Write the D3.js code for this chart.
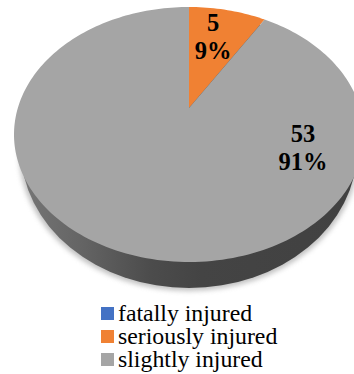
<!DOCTYPE html>
<html><head><meta charset="utf-8">
<script src="https://cdnjs.cloudflare.com/ajax/libs/d3/7.8.5/d3.min.js"></script>
<style>html,body{margin:0;padding:0;background:#fff;overflow:hidden}svg{display:block}
text{font-family:"Liberation Serif",serif;fill:#000}</style></head><body>
<script>
const categories = ["fatally injured","seriously injured","slightly injured"];
const values = [0,5,53];
const colors = ["#4472c4","#f08133","#a5a5a5"];
const W=354,H=374;
const svg=d3.select("body").append("svg").attr("width",W).attr("height",H);
const E={cx:189,cy:134.5,rx:175,ry:127.5}, apex=[189,108], stretch=1.42;
const L={cx:189,cy:150,rx:168,ry:138};
const total=d3.sum(values), pct=d3.format(".0%");
const pie=d3.pie().sort(null)(values);
// ray from the off-centre apex to the tilted rim
function rim(a){
  const dx=Math.sin(a)*stretch,dy=-Math.cos(a);
  const ox=(apex[0]-E.cx)/E.rx,oy=(apex[1]-E.cy)/E.ry,ux=dx/E.rx,uy=dy/E.ry;
  const A=ux*ux+uy*uy,B=2*(ox*ux+oy*uy),C=ox*ox+oy*oy-1;
  const t=(-B+Math.sqrt(B*B-4*A*C))/(2*A);
  return [apex[0]+t*dx,apex[1]+t*dy];
}
const line=d3.line();
const defs=svg.append("defs");
defs.append("filter").attr("id","soft").attr("x","-10%").attr("y","-10%").attr("width","120%").attr("height","120%")
  .append("feGaussianBlur").attr("stdDeviation",2.5);
const g=defs.append("linearGradient").attr("id","wall").attr("gradientUnits","userSpaceOnUse")
  .attr("x1",14).attr("x2",354).attr("y1",0).attr("y2",0);
[[0,"#787878"],[0.2,"#646464"],[0.4,"#4c4c4c"],[0.55,"#444"],[1,"#414141"]].forEach(s=>g.append("stop").attr("offset",s[0]).attr("stop-color",s[1]));
svg.append("ellipse").attr("cx",L.cx).attr("cy",L.cy+3).attr("rx",L.rx+2).attr("ry",L.ry)
  .attr("fill","#999").attr("opacity",.6).attr("filter","url(#soft)");
svg.append("ellipse").attr("cx",L.cx).attr("cy",L.cy).attr("rx",L.rx).attr("ry",L.ry).attr("fill","url(#wall)");
pie.forEach((d,i)=>{
  if(d.endAngle===d.startAngle) return;
  const n=Math.max(2,Math.ceil((d.endAngle-d.startAngle)*40));
  const pts=d3.range(n+1).map(k=>rim(d.startAngle+(d.endAngle-d.startAngle)*k/n));
  svg.append("path").attr("d",line([apex,...pts])+"Z").attr("fill",colors[i]);
});
const labelAt=[null,[213,31],[303,142]];
pie.forEach((d,i)=>{
  if(!labelAt[i]) return;
  const t=svg.append("text").attr("text-anchor","middle").attr("font-weight","bold").attr("font-size",24.5);
  t.append("tspan").attr("x",labelAt[i][0]).attr("y",labelAt[i][1]).text(d.value);
  t.append("tspan").attr("x",labelAt[i][0]).attr("y",labelAt[i][1]+28).text(pct(d.value/total));
});
const ly=d3.scalePoint().domain(categories).range([321,367]);
categories.forEach((c,i)=>{
  svg.append("rect").attr("x",101).attr("y",ly(c)-14).attr("width",13).attr("height",13).attr("fill",colors[i]);
  svg.append("text").attr("x",118).attr("y",ly(c)).attr("font-size",23.8).text(c);
});
</script></body></html>
